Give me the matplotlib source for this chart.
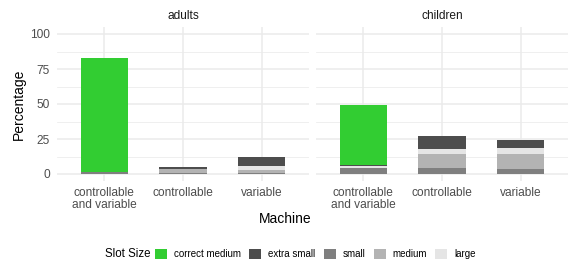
import numpy as np
import matplotlib
matplotlib.use('Agg')
import matplotlib.pyplot as plt
from matplotlib.patches import Patch

plt.rcParams['font.family'] = ['Liberation Sans', 'DejaVu Sans']

# data (percent), stacked bottom -> top
machines = ['controllable\nand variable', 'controllable', 'variable']
panels = ['adults', 'children']
slot_sizes = ['small', 'medium', 'large', 'extra small', 'correct medium']
legend_order = ['correct medium', 'extra small', 'small', 'medium', 'large']
slot_colors = {
    'correct medium': '#32CD32',
    'extra small': '#4D4D4D',
    'small': '#7F7F7F',
    'medium': '#B3B3B3',
    'large': '#E5E5E5',
}

adults_small = [1.5, 0.7, 0.9]
adults_medium = [0.0, 2.9, 1.9]
adults_large = [0.0, 0.0, 2.9]
adults_extra_small = [0.0, 1.4, 6.4]
adults_correct_medium = [81.6, 0.0, 0.0]

children_small = [4.5, 4.3, 3.6]
children_medium = [0.0, 10.0, 10.7]
children_large = [1.4, 3.6, 4.3]
children_extra_small = [0.7, 9.3, 5.7]
children_correct_medium = [42.7, 0.0, 0.0]

data = {
    'adults': [adults_small, adults_medium, adults_large, adults_extra_small, adults_correct_medium],
    'children': [children_small, children_medium, children_large, children_extra_small, children_correct_medium],
}

W, H = 573, 265
fig = plt.figure(figsize=(W / 100, H / 100), dpi=100)

def px_axes(x0, x1, y0, y1):
    return fig.add_axes([x0 / W, 1 - y1 / H, (x1 - x0) / W, (y1 - y0) / H])

ax_l = px_axes(57, 309, 27, 181)
ax_r = px_axes(316, 568, 27, 181)

x = np.arange(len(machines))
for ax, panel in zip([ax_l, ax_r], panels):
    ax.set_facecolor('white')
    bottom = np.zeros(len(machines))
    for name, vals in zip(slot_sizes, data[panel]):
        vals = np.array(vals)
        ax.bar(x, vals, bottom=bottom, width=0.6, color=slot_colors[name], linewidth=0, zorder=3)
        bottom += vals

    ax.set_xlim(-0.6, len(machines) - 0.4)
    ax.set_ylim(-5, 105)
    ax.set_yticks([0, 25, 50, 75, 100])
    ax.set_yticks([12.5, 37.5, 62.5, 87.5], minor=True)
    ax.set_xticks(x)
    ax.set_xticklabels(machines, fontsize=8.6, color='#4D4D4D', linespacing=1.05)
    ax.grid(True, which='major', color='#EBEBEB', linewidth=1.1, zorder=0)
    ax.grid(True, which='minor', axis='y', color='#EBEBEB', linewidth=0.55, zorder=0)
    ax.tick_params(axis='both', which='both', length=0)
    ax.tick_params(axis='x', pad=4)
    ax.tick_params(axis='y', pad=5, labelsize=8.6, labelcolor='#4D4D4D')
    for s in ax.spines.values():
        s.set_visible(False)
    ax.set_title(panel, fontsize=8.6, color='#1A1A1A', pad=6)

ax_r.tick_params(axis='y', labelleft=False)
ax_l.set_ylabel('Percentage', fontsize=10, labelpad=3)

fig.text(285 / W, 1 - 219 / H, 'Machine', fontsize=10, ha='center', va='center')

# legend with title on the left
fig.text(105 / W, 1 - 254 / H, 'Slot Size', fontsize=8.3, ha='left', va='center')
handles = [Patch(facecolor=slot_colors[n], edgecolor='none') for n in legend_order]
fig.legend(handles, legend_order, loc='center left', bbox_to_anchor=(155 / W, 1 - 254 / H),
           ncol=5, frameon=False, fontsize=7, handlelength=1.25, handleheight=1.35,
           handletextpad=0.7, columnspacing=0.85, borderpad=0, borderaxespad=0)

fig.savefig('out.png', dpi=100, facecolor='white')
